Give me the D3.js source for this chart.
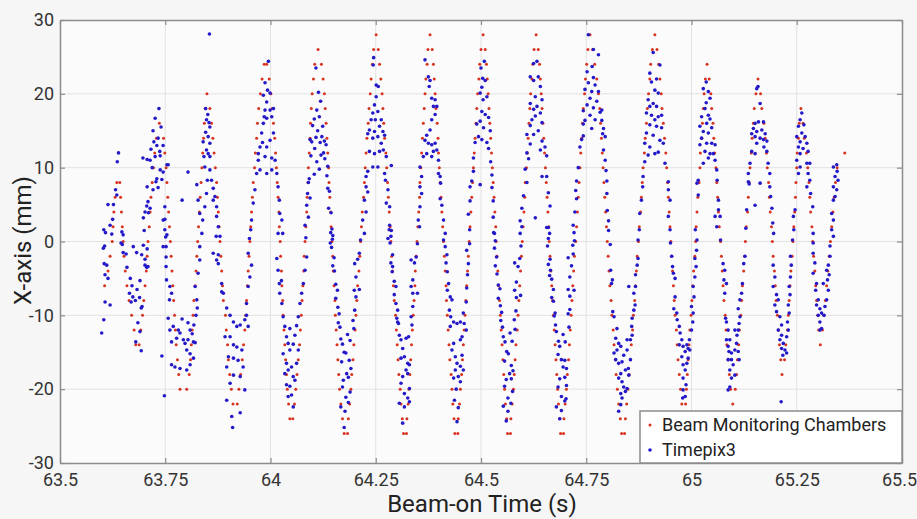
<!DOCTYPE html>
<html>
<head>
<meta charset="utf-8">
<script src="https://cdn.jsdelivr.net/npm/d3@7"></script>
<style>
body { margin: 0; background: #f6f6f6; }
svg { display: block; }
</style>
</head>
<body>
<div id="graph"></div>
<script>
const xTicks = [63.5, 63.75, 64, 64.25, 64.5, 64.75, 65, 65.25, 65.5];
const yTicks = [-30, -20, -10, 0, 10, 20, 30];
const seriesNames = ["Beam Monitoring Chambers", "Timepix3"];

// [beam-on time in ms, x position in mm]
const bmcPoints = [
[63606,-6],[63614,-4],[63619,-2],[63624,0],[63626,2],[63628,4],[63631,6],[63635,8],[63642,8],
[63644,6],[63646,4],[63648,2],[63650,0],[63652,-2],[63655,-4],[63659,-6],[63664,-8],[63670,-10],[63676,-12],[63680,-14],[63688,-14],
[63692,-12],[63696,-10],[63699,-8],[63702,-6],[63705,-4],[63707,-2],[63709,0],[63712,2],[63714,4],[63716,6],[63719,8],[63722,10],[63725,12],[63729,14],[63736,16],
[63746,14],[63749,12],[63752,10],[63754,8],[63756,6],[63758,4],[63760,2],[63762,0],[63764,-2],[63766,-4],[63768,-6],[63770,-8],[63772,-10],[63774,-12],[63776,-14],[63779,-16],[63782,-18],[63785,-20],[63801,-20],
[63807,-18],[63810,-16],[63812,-14],[63814,-12],[63816,-10],[63818,-8],[63821,-6],[63823,-4],[63825,-2],[63827,0],[63829,2],[63831,4],[63833,6],[63835,8],[63837,10],[63839,12],[63841,14],[63843,16],[63845,18],[63849,20],
[63856,18],[63860,16],[63863,14],[63866,12],[63869,10],[63872,8],[63874,6],[63876,4],[63878,2],[63880,0],[63882,-2],[63884,-4],[63886,-6],[63888,-8],[63893,-10],[63895,-12],[63898,-14],[63900,-16],[63903,-18],[63907,-20],[63911,-22],[63921,-22],
[63925,-20],[63929,-18],[63933,-16],[63936,-14],[63939,-12],[63941,-10],[63943,-8],[63945,-6],[63947,-4],[63949,-2],[63951,0],[63953,2],[63955,4],[63957,6],[63959,8],[63962,10],[63964,12],[63967,14],[63969,16],[63972,18],[63976,20],[63980,22],[63985,24],[63991,24],
[63997,22],[64001,20],[64004,18],[64007,16],[64010,14],[64012,12],[64014,10],[64016,8],[64018,6],[64020,4],[64021,2],[64023,0],[64024,-2],[64026,-4],[64027,-6],[64029,-8],[64030,-10],[64032,-12],[64034,-14],[64036,-16],[64038,-18],[64040,-20],[64043,-22],[64046,-24],[64053,-24],
[64057,-22],[64060,-20],[64063,-18],[64066,-16],[64069,-14],[64071,-12],[64073,-10],[64075,-8],[64077,-6],[64079,-4],[64080,-2],[64082,0],[64084,2],[64086,4],[64087,6],[64089,8],[64090,10],[64092,12],[64094,14],[64095,16],[64097,18],[64099,20],[64102,22],[64105,24],[64113,26],
[64121,24],[64125,22],[64128,20],[64130,18],[64132,16],[64134,14],[64136,12],[64138,10],[64139,8],[64141,6],[64143,4],[64144,2],[64146,0],[64148,-2],[64149,-4],[64151,-6],[64153,-8],[64154,-10],[64156,-12],[64158,-14],[64160,-16],[64162,-18],[64164,-20],[64167,-22],[64171,-24],[64175,-26],[64183,-26],
[64185,-24],[64188,-22],[64191,-20],[64193,-18],[64196,-16],[64198,-14],[64201,-12],[64203,-10],[64205,-8],[64207,-6],[64210,-4],[64212,-2],[64214,0],[64216,2],[64218,4],[64221,6],[64223,8],[64225,10],[64227,12],[64229,14],[64232,16],[64234,18],[64237,20],[64239,22],[64242,24],[64245,26],[64251,28],
[64256,26],[64259,24],[64262,22],[64265,20],[64267,18],[64269,16],[64271,14],[64274,12],[64276,10],[64278,8],[64280,6],[64282,4],[64284,2],[64286,0],[64288,-2],[64290,-4],[64292,-6],[64294,-8],[64297,-10],[64299,-12],[64301,-14],[64303,-16],[64305,-18],[64308,-20],[64310,-22],[64313,-24],[64316,-26],[64323,-26],
[64324,-24],[64327,-22],[64329,-20],[64331,-18],[64333,-16],[64335,-14],[64337,-12],[64339,-10],[64341,-8],[64343,-6],[64344,-4],[64346,-2],[64348,0],[64350,2],[64352,4],[64354,6],[64355,8],[64357,10],[64359,12],[64361,14],[64363,16],[64365,18],[64367,20],[64369,22],[64372,24],[64374,26],[64379,28],
[64384,26],[64387,24],[64389,22],[64391,20],[64393,18],[64396,16],[64398,14],[64399,12],[64401,10],[64403,8],[64405,6],[64407,4],[64409,2],[64411,0],[64413,-2],[64415,-4],[64417,-6],[64418,-8],[64420,-10],[64422,-12],[64424,-14],[64426,-16],[64429,-18],[64431,-20],[64433,-22],[64436,-24],[64438,-26],[64445,-26],
[64446,-24],[64449,-22],[64451,-20],[64454,-18],[64456,-16],[64458,-14],[64460,-12],[64462,-10],[64464,-8],[64466,-6],[64468,-4],[64470,-2],[64472,0],[64474,2],[64476,4],[64478,6],[64480,8],[64482,10],[64484,12],[64486,14],[64488,16],[64490,18],[64492,20],[64495,22],[64497,24],[64500,26],[64505,28],
[64510,26],[64513,24],[64515,22],[64517,20],[64519,18],[64521,16],[64523,14],[64525,12],[64527,10],[64529,8],[64531,6],[64533,4],[64535,2],[64536,0],[64538,-2],[64540,-4],[64542,-6],[64544,-8],[64546,-10],[64548,-12],[64550,-14],[64552,-16],[64554,-18],[64556,-20],[64558,-22],[64561,-24],[64563,-26],[64570,-26],
[64571,-24],[64574,-22],[64577,-20],[64579,-18],[64581,-16],[64583,-14],[64586,-12],[64588,-10],[64590,-8],[64592,-6],[64594,-4],[64596,-2],[64598,0],[64600,2],[64602,4],[64604,6],[64605,8],[64608,10],[64610,12],[64612,14],[64614,16],[64616,18],[64618,20],[64621,22],[64623,24],[64626,26],[64631,28],
[64636,26],[64639,24],[64641,22],[64643,20],[64645,18],[64647,16],[64649,14],[64651,12],[64653,10],[64655,8],[64657,6],[64659,4],[64661,2],[64662,0],[64664,-2],[64666,-4],[64668,-6],[64670,-8],[64672,-10],[64674,-12],[64676,-14],[64678,-16],[64680,-18],[64682,-20],[64684,-22],[64687,-24],[64689,-26],[64696,-26],
[64697,-24],[64700,-22],[64703,-20],[64705,-18],[64708,-16],[64710,-14],[64712,-12],[64714,-10],[64716,-8],[64718,-6],[64720,-4],[64722,-2],[64725,0],[64727,2],[64729,4],[64731,6],[64733,8],[64735,10],[64737,12],[64739,14],[64741,16],[64743,18],[64746,20],[64748,22],[64751,24],[64754,26],[64759,28],
[64765,26],[64770,24],[64775,22],[64779,20],[64782,18],[64784,16],[64786,14],[64788,12],[64790,10],[64792,8],[64794,6],[64796,4],[64798,2],[64800,0],[64802,-2],[64804,-4],[64806,-6],[64809,-8],[64811,-10],[64814,-12],[64816,-14],[64819,-16],[64821,-18],[64824,-20],[64827,-22],[64831,-24],[64834,-26],[64841,-26],
[64843,-24],[64846,-22],[64849,-20],[64852,-18],[64855,-16],[64857,-14],[64860,-12],[64862,-10],[64865,-8],[64867,-6],[64869,-4],[64871,-2],[64874,0],[64876,2],[64879,4],[64881,6],[64883,8],[64885,10],[64888,12],[64890,14],[64893,16],[64895,18],[64898,20],[64901,22],[64903,24],[64907,26],[64913,28],
[64918,26],[64922,24],[64925,22],[64928,20],[64930,18],[64933,16],[64936,14],[64939,12],[64941,10],[64943,8],[64945,6],[64947,4],[64949,2],[64951,0],[64953,-2],[64955,-4],[64957,-6],[64959,-8],[64961,-10],[64964,-12],[64966,-14],[64968,-16],[64971,-18],[64974,-20],[64977,-22],[64986,-22],
[64988,-20],[64990,-18],[64992,-16],[64994,-14],[64996,-12],[64999,-10],[65001,-8],[65003,-6],[65005,-4],[65008,-2],[65010,0],[65011,2],[65013,4],[65015,6],[65018,8],[65020,10],[65021,12],[65024,14],[65026,16],[65028,18],[65030,20],[65033,22],[65037,24],
[65042,22],[65046,20],[65048,18],[65051,16],[65053,14],[65055,12],[65058,10],[65060,8],[65062,6],[65064,4],[65066,2],[65069,0],[65071,-2],[65073,-4],[65075,-6],[65077,-8],[65080,-10],[65082,-12],[65084,-14],[65087,-16],[65090,-18],[65093,-20],[65098,-22],
[65104,-20],[65107,-18],[65109,-16],[65112,-14],[65114,-12],[65117,-10],[65119,-8],[65121,-6],[65124,-4],[65126,-2],[65128,0],[65130,2],[65133,4],[65135,6],[65137,8],[65139,10],[65142,12],[65144,14],[65147,16],[65149,18],[65153,20],[65158,22],
[65164,20],[65167,18],[65172,16],[65175,14],[65178,12],[65180,10],[65183,8],[65185,6],[65187,4],[65190,2],[65192,0],[65194,-2],[65197,-4],[65199,-6],[65201,-8],[65204,-10],[65207,-12],[65209,-14],[65212,-16],[65215,-18],
[65221,-16],[65224,-14],[65228,-12],[65230,-10],[65232,-8],[65234,-6],[65236,-4],[65239,-2],[65241,0],[65243,2],[65245,4],[65247,6],[65248,8],[65250,10],[65251,12],[65254,14],[65256,16],[65260,18],
[65265,16],[65268,14],[65273,12],[65276,10],[65279,8],[65281,6],[65283,4],[65286,2],[65288,0],[65290,-2],[65293,-4],[65295,-6],[65297,-8],[65300,-10],[65302,-12],[65306,-14],
[65311,-12],[65314,-10],[65318,-8],[65321,-6],[65324,-4],[65327,-2],[65330,0],[65333,2],[65336,4],[65339,6],[65342,8],[65346,10],[65364,12]
];

// [beam-on time in ms, x position in mm]
const tpxPoints = [
[63599,-12.4],[63604,-10.6],[63607,-8.2],[63619,-8.6],[63607,-4.5],[63614,-5],[63605,-3],[63611,-3.2],[63603,-0.9],[63606,-0.6],[63604,1.6],[63608,1.2],[63614,5],[63636,10.8],[63639,12],[63632,7],[63635,6.3],[63627,5],[63625,3],[63619,2.2],[63623,1],[63647,1.3],[63650,0.9],[63650,-1.5],[63657,-1.7],[63645,-0.2],[63648,-0.4],[63659,-3.5],[63667,-5],[63671,-6],[63665,-7],[63673,-7.5],[63669,-8.2],[63679,-8],[63683,-6.5],[63690,-5.3],[63689,-7.6],[63695,-8.8],[63693,-9],[63674,-0.7],[63682,-1.5],[63694,-1.8],[63702,-3.2],[63709,-3.4],[63685,-11],[63690,-12.2],[63680,-13.6],[63693,-14.8],
[63697,11.3],[63707,11.1],[63707,7.4],[63709,5.4],[63702,4],[63700,1.5],[63707,-1],[63719,10],[63726,11.5],[63730,13],[63733,14],[63735,18],[63726,16.7],[63721,15],[63745,13],[63745,9.4],[63754,10.4],[63738,9.7],[63730,8.5],[63742,8.4],[63721,7],[63733,7.3],[63749,4.7],[63749,3],[63754,0.9],[63745,-0.7],[63698,-0.5],[63702,-2.4],[63706,-3.5],[63698,3.2],[63706,4.8],[63714,4.5],[63710,3.9],[63716,12.5],[63740,15.5],[63737,12.2],[63723,13.5],[63714,11],[63738,11.6],[63728,8.1],[63757,10.4],[63790,5.6],[63804,9.4],
[63745,2.9],[63749,1.6],[63751,0.6],[63752,-0.7],[63752,-2.1],[63752,-3.4],[63753,-5.2],[63761,-6.1],[63765,-7],[63760,-7.9],[63742,-15.5],[63748,-20.9],[63761,-12],[63769,-11.5],[63781,-12],[63785,-12.4],[63777,-13.1],[63793,-13.3],[63797,-13.8],[63801,-14.7],[63809,-15.2],[63817,-15.8],[63765,-13.6],[63765,-16.7],[63773,-17],[63785,-17.2],[63801,-17.4],[63809,-16.7],[63817,-13.6],[63809,-12],[63804,-13.3],[63814,-12.5],[63821,-13.7],[63818,-11.3],[63804,-11],[63790,-10.5],[63757,-10.4],[63823,-10],[63826,-9],
[63825,-7.9],[63821,-6.1],[63828,-4.3],[63832,-2.5],[63832,-0.7],[63837,1.1],[63839,2.9],[63844,4.7],[63848,6.5],[63850,8.3],[63844,10.1],[63852,11.9],[63856,13.3],[63856,15.5],[63825,7.7],[63828,5.6],[63832,3.8],[63842,11.5],[63848,12.4],[63852,14.2],[63854,16.1],[63848,16.5],[63855,28.1],[63856,9.7],[63856,11.5],[63860,8.3],[63864,7.2],[63868,6.1],[63872,4.7],[63864,5.6],[63872,3.4],[63876,2],[63880,0.7],[63871,0.7],[63876,-1.8],[63846,18],[63851,17.2],[63840,13.5],[63846,14.8],
[63864,-1.6],[63872,-2.5],[63884,-6.8],[63896,-9],[63904,-10],[63912,-10.9],[63920,-11.5],[63928,-11.3],[63892,-12.9],[63904,-12.9],[63912,-14],[63920,-14.3],[63932,-14.7],[63939,-10.6],[63943,-10],[63947,-11.5],[63900,-15.6],[63912,-15.8],[63923,-16.1],[63935,-17],[63928,-18.3],[63912,-18.1],[63896,-17],[63904,-19.2],[63896,-21.5],[63908,-23.7],[63910,-25.2],[63928,-23.2],[63939,-20.1],[63876,-3],[63884,-5.7],[63888,-7],[63943,-8.4],[63947,-6.1],[63951,-4.8],[63955,-3.2],[63947,-1.6],
[63950,0.4],[63953,1.6],[63955,2.9],[63959,5.2],[63963,7],[63967,9.2],[63971,11],[63975,12.8],[63979,14.7],[63983,16],[63987,17.8],[63991,18.9],[63995,24.4],[63985,16.9],[63991,16.7],[64003,16.9],[63999,17.8],[64007,18],[63981,13.4],[63991,12.8],[63999,13.7],[64007,14.7],[63971,11.9],[63987,11.5],[64003,11.3],[63975,9.7],[63991,9.2],[64003,9.7],[64011,11],[64015,9.2],[64018,7.4],[64021,5.6],[64022,3.8],[64027,2.9],[64018,1.1],[64029,1.1],[63987,21.5],[63993,20.5],[63983,19.8],[63999,20.1],
[64015,-2.3],[64018,-3.9],[64021,-5.7],[64022,-7],[64027,-8.4],[64030,-10.2],[64034,-11.5],[64038,-12.9],[64042,-13.8],[64046,-14.7],[64038,-16.5],[64034,-17.9],[64042,-17.4],[64050,-17],[64054,-18.3],[64042,-21],[64054,-22.4],[64058,-18.8],[64062,-16.5],[64066,-14.7],[64058,-12.7],[64066,-10.2],[64070,-8.4],[64074,-7],[64078,-5.7],[64082,-3.9],[64086,-2.1],[64030,-15.2],[64046,-19.6],[64050,-20.8],[64038,-19.4],[64046,-11.8],[64054,-13.9],[64062,-11.4],[64026,-5.3],
[64108,23.5],[64114,20.2],[64119,19],[64110,17.8],[64104,16.6],[64116,16.9],[64100,15.7],[64112,15],[64124,15.6],[64122,14.2],[64098,13.5],[64108,14.1],[64128,13.6],[64105,12.6],[64118,13.4],[64094,13.8],[64126,12],[64132,13.1],[64096,11.6],[64110,10.8],[64120,11.7],[64129,11.2],[64136,10.2],[64104,9.1],[64116,9.8],[64092,8.5],[64090,8],[64134,8.9],[64136,7.2],[64088,6.5],[64094,5.9],[64140,6.8],[64086,4.9],[64138,4.5],[64144,3.9],[64090,3.3],[64082,2.2],[64146,1.7],[64148,0.8],[64084,0.5],[64142,-0.2],
[64143,1.2],[64147,0.3],[64145,-0.8],[64151,-2.2],[64148,-3.3],[64152,-4],[64155,-5.8],[64159,-6.6],[64155,-7.7],[64160,-8.9],[64163,-9.8],[64161,-11],[64165,-11.6],[64167,-13.2],[64171,-13.9],[64183,-12.6],[64189,-13.4],[64175,-15],[64169,-16.3],[64179,-15.1],[64187,-16.1],[64191,-17.2],[64181,-17.9],[64173,-18.8],[64185,-18.4],[64171,-19.7],[64189,-20.4],[64179,-21.1],[64185,-21.8],[64167,-22.4],[64177,-23],[64175,-25.2],[64199,-6.6],[64203,-4.8],[64200,-3],[64207,-2.4],[64211,-1.6],[64214,0.2],[64203,-7.5],[64211,-6.5],[64200,-9.3],[64196,-10.7],[64198,-11.8],
[64245,24.9],[64244,23.9],[64251,21.2],[64256,21],[64251,19.6],[64247,18.5],[64243,17.4],[64255,17.6],[64239,16.5],[64249,16.5],[64263,16.5],[64259,15.6],[64235,15.1],[64247,14.9],[64267,14.9],[64243,14],[64255,14.2],[64231,14.6],[64263,13.3],[64271,14.4],[64235,12.2],[64247,11.9],[64259,12.2],[64268,12.4],[64275,11.5],[64243,10.1],[64255,10.1],[64287,10.3],[64231,9.5],[64227,8.8],[64271,9.2],[64273,8.3],[64227,7.4],[64231,6.7],[64279,7],[64223,5.6],[64275,5.2],[64283,4.7],[64227,4],[64219,2.9],[64283,2.2],[64287,1.5],[64223,1.1],[64279,0.4],
[64282,1.6],[64286,0.7],[64284,-0.2],[64290,-1.8],[64286,-2.9],[64290,-3.4],[64289,-4.1],[64294,-5.4],[64298,-6.1],[64294,-7.2],[64298,-8.4],[64302,-9.3],[64300,-10.4],[64302,-10.9],[64304,-11.1],[64306,-12.7],[64310,-13.3],[64322,-13.1],[64328,-12.9],[64314,-14.5],[64310,-15.8],[64318,-15.6],[64326,-16.5],[64330,-16.7],[64322,-17.4],[64314,-18.3],[64326,-17.9],[64310,-19.2],[64330,-19.9],[64318,-20.6],[64326,-21.2],[64306,-21.9],[64318,-22.4],[64330,-21.7],[64314,-24.6],[64334,-6.1],[64338,-5.2],[64334,-2.5],[64342,-2.9],[64346,-2.1],[64349,-0.3],[64338,-7],[64349,-7],[64338,-8.8],[64334,-10.2],[64336,-11.3],
[64367,24.6],[64375,22.3],[64379,21.8],[64377,21],[64383,19.4],[64391,19.2],[64387,18.3],[64395,18.3],[64391,17.2],[64383,16.5],[64379,15.1],[64371,14.4],[64367,13.7],[64375,13.3],[64383,13.1],[64391,13.3],[64395,12.4],[64387,12.2],[64371,11.9],[64363,11.5],[64383,11.5],[64399,11],[64399,9.2],[64403,8.8],[64404,7.9],[64355,10.1],[64359,8.8],[64355,7.4],[64359,6.5],[64355,4.7],[64403,5.8],[64407,4.9],[64411,2.9],[64351,2.9],[64354,2],[64415,1.1],
[64411,0.2],[64415,-0.7],[64419,-1.8],[64417,-2.9],[64420,-4.1],[64423,-5.7],[64420,-6.6],[64427,-7.5],[64431,-7.9],[64425,-9.3],[64428,-10.2],[64435,-10.9],[64443,-11.1],[64451,-10.9],[64427,-11.5],[64451,-13.3],[64455,-12.9],[64435,-13.8],[64431,-14.7],[64439,-15.6],[64443,-16.5],[64451,-16.9],[64439,-17.4],[64446,-18.3],[64435,-18.5],[64451,-19],[64443,-24.4],[64458,-9.7],[64465,-8.2],[64466,-6.3],[64468,-4.5],[64470,-3],[64466,-1.2],[64473,-0.3],[64460,-11.1],[64465,-12],[64455,-15.4],[64458,-17.4],[64437,-21.5],[64446,-22.5],[64441,-20],
[64504,22.1],[64510,21.8],[64502,20.9],[64498,20.1],[64505,19.2],[64514,19.6],[64502,17.6],[64510,17.2],[64518,16.8],[64498,16.3],[64490,15.9],[64506,15.4],[64522,15],[64494,14.2],[64502,13.8],[64514,13.4],[64486,13.4],[64482,11.3],[64518,12.6],[64523,10.8],[64526,9],[64482,9.5],[64478,8.2],[64474,7.4],[64526,7.3],[64529,5.5],[64474,5.5],[64470,3.7],[64529,3.3],[64532,1.1],[64473,1.6],[64498,7.7],[64500,23.5],[64508,24.4],
[64530,1.2],[64534,0.1],[64532,-0.9],[64537,-2.1],[64534,-3.3],[64538,-4.4],[64541,-5.9],[64545,-6.4],[64541,-7.7],[64546,-8.7],[64549,-9.6],[64547,-10.7],[64551,-11.6],[64553,-12.9],[64557,-13.6],[64569,-12.4],[64574,-13.5],[64561,-14.9],[64556,-16.2],[64565,-15.2],[64572,-16.8],[64576,-17.5],[64568,-17.9],[64560,-18.7],[64572,-18.6],[64556,-19.6],[64575,-20.3],[64564,-21.2],[64571,-21.9],[64553,-22.3],[64564,-23],[64560,-24.3],[64580,-6.6],[64584,-5.5],[64580,-2.9],[64588,-3.4],[64592,-2.3],[64595,-0.6],[64584,-7.6],[64594,-7.3],[64583,-9.4],[64579,-10.6],[64581,-11.9],
[64625,24.1],[64633,24.4],[64617,22.3],[64636,22.3],[64625,21.8],[64641,21],[64629,19.6],[64645,19.2],[64617,18.7],[64633,18.3],[64625,17.9],[64641,17.4],[64629,17],[64621,16.5],[64645,16.1],[64617,15.7],[64636,15],[64625,14.5],[64609,14.5],[64645,13.6],[64617,13.2],[64652,12.8],[64641,12.4],[64609,12],[64613,11.2],[64656,11.6],[64605,9.8],[64645,8.8],[64656,8.8],[64609,8],[64660,6.6],[64601,6.2],[64597,4.5],[64629,3.2],[64593,2.8],[64664,4.8],[64597,2],[64660,1.9],[64663,1.1],[64593,1.1],
[64656,1.9],[64660,0.4],[64658,-0.6],[64664,-2.4],[64660,-3.1],[64665,-3.9],[64663,-4.6],[64668,-5.1],[64672,-6.5],[64668,-7.6],[64672,-8.1],[64676,-9.7],[64674,-10.1],[64677,-11.3],[64679,-12.2],[64684,-13.5],[64695,-12.6],[64700,-13.6],[64687,-14.2],[64683,-15.3],[64691,-16],[64699,-16.1],[64703,-17.2],[64695,-17],[64687,-18.6],[64699,-18.4],[64683,-19.7],[64703,-19.5],[64691,-21],[64699,-21.6],[64679,-22.4],[64691,-22.9],[64702,-21.3],[64687,-24],[64707,-6.5],[64711,-4.8],[64707,-2.2],[64715,-3.3],[64719,-1.7],[64722,0.1],[64711,-7.4],[64721,-6.6],[64711,-9.2],[64707,-9.8],[64709,-11.6],
[64755,28],[64767,26],[64779,25.3],[64752,23],[64764,23.7],[64767,22.2],[64755,21.5],[64771,21.2],[64747,20.6],[64763,20.3],[64779,20.3],[64759,19.4],[64775,19],[64752,18.5],[64767,18.1],[64783,17.5],[64743,17.7],[64759,17.1],[64771,16.5],[64747,16.4],[64743,15.9],[64763,15.3],[64743,14.3],[64739,13.8],[64787,16.4],[64791,15.3],[64787,17.8],[64789,14.6],[64795,14.2],[64791,12.4],[64795,11],[64797,9.6],[64799,8.2],[64799,6.5],[64800,4.2],[64803,2.8],[64803,1.5],[64807,-0.4],[64735,12.8],[64731,10],[64727,8.2],[64725,6.9],[64727,5.8],[64723,4],[64719,2.2],[64721,1.2],[64718,-0.5],
[64808,-3.9],[64812,-5.2],[64810,-5.7],[64813,-9.5],[64816,-10.2],[64823,-11.8],[64820,-13.1],[64827,-13.8],[64823,-14.7],[64832,-14.2],[64816,-15.1],[64820,-16],[64827,-16.5],[64835,-16.3],[64839,-15.4],[64847,-14.7],[64843,-17.4],[64832,-17.9],[64827,-18.5],[64835,-19],[64839,-19.7],[64847,-19.9],[64832,-20.6],[64843,-20.3],[64835,-21.2],[64832,-22.1],[64827,-23],[64851,-18.1],[64850,-17.2],[64855,-16],[64855,-13.3],[64859,-12.7],[64858,-11.5],[64859,-10.4],[64863,-9.3],[64866,-8.6],[64863,-7],[64867,-6.1],[64867,-4.5],[64871,-3.2],[64873,-2.3],[64851,-6.1],[64847,-13.3],
[64909,25.6],[64901,22.8],[64917,22],[64925,23.9],[64905,21.6],[64913,20.5],[64921,20.1],[64897,19.2],[64909,18.7],[64901,18.3],[64917,18.3],[64893,17.4],[64905,17.1],[64921,16.9],[64929,17.1],[64913,16.5],[64901,15.8],[64917,15.6],[64929,15.4],[64893,14.7],[64909,14.4],[64925,13.7],[64933,13.3],[64889,13.3],[64901,12.8],[64913,11.9],[64897,11.7],[64921,12.1],[64889,10.8],[64937,10.6],[64885,8.8],[64945,8.1],[64884,7.4],[64945,7],[64881,5.6],[64949,5.6],[64877,3.8],[64945,3.4],[64876,1.6],[64949,1.6],[64873,0.2],[64950,-0.2],
[64953,-2],[64955,-3.4],[64957,-4.3],[64961,-5],[64961,-7.5],[64958,-9.1],[64965,-9.7],[64966,-10.6],[64971,-11.5],[64973,-12.4],[64977,-13.3],[64971,-14],[64980,-14.2],[64989,-14],[64992,-14.5],[64985,-14.9],[64977,-15.6],[64980,-16.7],[64989,-16.5],[64985,-17.4],[64980,-18.5],[64987,-19.4],[64980,-20.1],[64985,-21],[64979,-21.2],[64992,-15.8],[64996,-14.7],[64995,-13.3],[65000,-12],[65003,-10.9],[65004,-9.7],[65000,-8.8],[65006,-7.5],[65004,-6.1],[65008,-4.8],[65011,-3.4],[65008,-2.3],[65012,-1.2],
[65035,18.8],[65032,18],[65040,17.1],[65024,16.9],[65044,16.6],[65036,16],[65020,15.6],[65048,15.4],[65028,14.9],[65040,14.7],[65024,14],[65036,13.3],[65048,13.3],[65056,13.1],[65020,13.1],[65032,12.2],[65044,11.9],[65052,11.9],[65040,11.3],[65056,11],[65028,10.6],[65016,8.3],[65060,9.7],[65013,7.9],[65061,8.3],[65016,6.3],[65064,5.6],[65009,1.6],[65013,0.2],[65064,4.3],[65068,3.4],[65056,3.4],[65060,2],[65069,0.2],[65035,21.6],[65028,20.7],[65040,20.3],[65044,19.4],
[65075,-3],[65079,-3.9],[65077,-5.2],[65083,-5.7],[65079,-7],[65081,-10.4],[65083,-10.9],[65087,-12],[65083,-13.3],[65091,-13.3],[65087,-14.2],[65089,-14.9],[65095,-15.1],[65087,-16],[65095,-16],[65099,-16.7],[65091,-17.4],[65103,-18.1],[65095,-18.5],[65091,-19.7],[65087,-20.1],[65103,-14.7],[65107,-13.8],[65108,-12.7],[65111,-12],[65113,-11.1],[65103,-12],[65115,-10.2],[65111,-9.1],[65115,-7.9],[65119,-7],[65121,-5.7],[65124,-3],[65127,-2],[65111,-14.9],[65113,-16],
[65158,21],[65155,20.7],[65163,18.7],[65151,16],[65159,16.2],[65171,16.2],[65147,15.3],[65155,14.9],[65167,15.1],[65175,14.6],[65143,14.6],[65151,14.2],[65163,14],[65171,13.8],[65179,13.6],[65155,13.3],[65172,12.8],[65143,12.2],[65151,11.9],[65179,12.2],[65139,10.6],[65182,10.6],[65135,9.2],[65186,9.2],[65135,8.1],[65137,7.8],[65163,7.9],[65186,7.4],[65188,6.1],[65151,4.9],[65131,4.3],[65191,4.5],[65129,1.8],[65193,2.5],[65195,1.1],
[65194,-3.2],[65198,-4.8],[65194,-6.1],[65202,-7.2],[65206,-7.9],[65198,-8.6],[65202,-9.5],[65210,-10.2],[65214,-11.3],[65206,-12],[65214,-12.7],[65210,-13.3],[65218,-13.8],[65214,-14.5],[65222,-14.7],[65217,-15.4],[65226,-15.1],[65213,-21.7],[65226,-12.9],[65230,-12],[65228,-10.9],[65232,-9.7],[65230,-8.6],[65234,-7.2],[65232,-6.1],[65235,-4.8],[65237,-3.2],[65235,-2],
[65262,17.4],[65258,16.5],[65267,15.8],[65254,15.6],[65262,14.7],[65250,14.2],[65270,14.2],[65258,13.5],[65274,13.3],[65254,12.8],[65265,12.6],[65277,12.2],[65258,11.9],[65250,11],[65274,10.6],[65258,10.1],[65281,10.6],[65254,9.2],[65277,9.2],[65281,8.3],[65274,7.4],[65283,6.5],[65246,4.3],[65242,3.4],[65288,4.7],[65243,1.6],[65289,1.1],[65240,0.2],[65289,-0.2],
[65289,-1.6],[65293,-2.9],[65289,-4.3],[65297,-5.7],[65295,-6.6],[65301,-7.9],[65297,-8.6],[65305,-9.1],[65309,-9.7],[65301,-10],[65305,-10.9],[65309,-11.8],[65305,-12],[65321,-7.9],[65325,-6.6],[65323,-5.2],[65327,-4.5],[65325,-3.2],[65329,-2],[65317,-8.8],[65315,-10],[65313,-5.7],[65321,-3.9],
[65337,10.1],[65345,10.4],[65346,9.5],[65341,8.8],[65348,8.3],[65337,7.4],[65345,7],[65341,6.1],[65337,5.6],[65333,3.8],[65337,2.9],[65333,1.6],[65337,0.7],[65329,-0.6]
];

const colors = ["#d8321f", "#2419c8"];

let margin = {top: 20, right: 15, bottom: 56, left: 60},
    width = 917 - margin.left - margin.right,
    height = 519 - margin.top - margin.bottom;

let svg = d3.select("#graph")
    .append("svg")
    .attr("width", 917)
    .attr("height", 519)
    .style("font-family", "Roboto, 'Liberation Sans', sans-serif");

svg.append("rect")
    .attr("width", 917)
    .attr("height", 519)
    .attr("fill", "#f6f6f6");

let g = svg.append("g")
    .attr("transform", "translate(" + margin.left + "," + margin.top + ")");

let x = d3.scaleLinear().domain([63.5, 65.5]).range([0, width]),
    y = d3.scaleLinear().domain([-30, 30]).range([height, 0]);

g.append("rect")
    .attr("width", width)
    .attr("height", height)
    .attr("fill", "#fbfbfb");

// grid
g.append("g").selectAll("line")
    .data(xTicks.slice(1, -1))
    .join("line")
    .attr("x1", d => x(d)).attr("x2", d => x(d))
    .attr("y1", 0).attr("y2", height)
    .attr("stroke", "#e2e2e2");

g.append("g").selectAll("line")
    .data(yTicks.slice(1, -1))
    .join("line")
    .attr("y1", d => y(d)).attr("y2", d => y(d))
    .attr("x1", 0).attr("x2", width)
    .attr("stroke", "#e2e2e2");

// points
g.append("g").selectAll("circle")
    .data(bmcPoints)
    .join("circle")
    .attr("cx", d => x(d[0] / 1000))
    .attr("cy", d => y(d[1]))
    .attr("r", 1.5)
    .attr("fill", colors[0]);

g.append("g").selectAll("circle")
    .data(tpxPoints)
    .join("circle")
    .attr("cx", d => x(d[0] / 1000))
    .attr("cy", d => y(d[1]))
    .attr("r", 1.8)
    .attr("fill", colors[1]);

// axes
function styleAxis(sel) {
  sel.select(".domain").attr("stroke", "#8c8c8c").attr("stroke-width", 1.5);
  sel.selectAll(".tick line").attr("stroke", "#8c8c8c").attr("stroke-width", 1.2);
  sel.selectAll(".tick text").attr("fill", "#333").attr("font-size", 18)
      .attr("font-family", "Roboto, 'Liberation Sans', sans-serif");
}

let xAxisG = g.append("g")
    .attr("transform", "translate(0," + height + ")")
    .call(d3.axisBottom(x).tickValues(xTicks).tickFormat(d => d)
        .tickSizeInner(-5).tickSizeOuter(0).tickPadding(10))
    .call(styleAxis);

// last label sits at the page edge, keep it inside
xAxisG.selectAll(".tick text")
    .filter(d => d === xTicks[xTicks.length - 1])
    .attr("dx", -3);

g.append("g")
    .call(d3.axisLeft(y).tickValues(yTicks).tickFormat(d => d)
        .tickSizeInner(-5).tickSizeOuter(0).tickPadding(6))
    .call(styleAxis);

g.append("g")
    .call(d3.axisTop(x).tickValues(xTicks).tickFormat("")
        .tickSizeInner(-5).tickSizeOuter(0))
    .call(styleAxis);

g.append("g")
    .attr("transform", "translate(" + width + ",0)")
    .call(d3.axisRight(y).tickValues(yTicks).tickFormat("")
        .tickSizeInner(-5).tickSizeOuter(0))
    .call(styleAxis);

// axis titles
svg.append("text")
    .attr("x", margin.left + width / 2 + 1)
    .attr("y", 512)
    .attr("text-anchor", "middle")
    .attr("font-size", 24)
    .attr("fill", "#222")
    .text("Beam-on Time (s)");

svg.append("text")
    .attr("transform", "translate(31," + (margin.top + height / 2 - 1) + ") rotate(-90)")
    .attr("text-anchor", "middle")
    .attr("font-size", 24)
    .attr("fill", "#222")
    .text("X-axis (mm)");

// legend
let legend = g.append("g")
    .attr("transform", "translate(" + (width - 262) + "," + (height - 52) + ")");

legend.append("rect")
    .attr("width", 262)
    .attr("height", 52)
    .attr("fill", "#ffffff")
    .attr("stroke", "#8c8c8c")
    .attr("stroke-width", 1.5);

seriesNames.forEach(function(name, i) {
  legend.append("circle")
      .attr("cx", 10)
      .attr("cy", 14 + i * 25)
      .attr("r", i === 0 ? 1.5 : 1.8)
      .attr("fill", colors[i]);
  legend.append("text")
      .attr("x", 22)
      .attr("y", 20 + i * 25)
      .attr("font-size", 18)
      .attr("fill", "#222")
      .text(name);
});
</script>
</body>
</html>
